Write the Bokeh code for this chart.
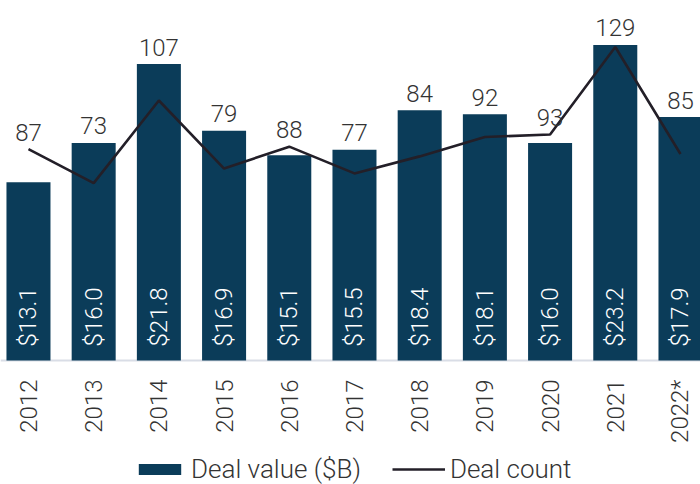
import math
from bokeh.plotting import figure
from bokeh.models import (ColumnDataSource, Range1d, Legend, LegendItem, Span)
from bokeh.core.properties import value
from bokeh.embed import file_html
from bokeh.resources import INLINE

years = ["2012", "2013", "2014", "2015", "2016", "2017", "2018", "2019", "2020", "2021", "2022*"]
deal_value = [13.1, 16.0, 21.8, 16.9, 15.1, 15.5, 18.4, 18.1, 16.0, 23.2, 17.9]
deal_count = [87, 73, 107, 79, 88, 77, 84, 92, 93, 129, 85]

FONT = "Roboto Light"
BAR = "#0b3c59"
LINE = "#231f28"
TXT = "#333333"

VAL_MIN, VAL_MAX = -9.118, 26.47
CNT_MIN, CNT_MAX = -51.03, 148.15
ratio = CNT_MAX / VAL_MAX

xs = list(range(len(years)))
value_labels = ["$%.1f" % v for v in deal_value]
count_labels = [str(c) for c in deal_count]
label_y = [max(v * ratio, c) + 7.0 for v, c in zip(deal_value, deal_count)]

src = ColumnDataSource(dict(x=xs, v=deal_value, c=deal_count, vl=value_labels,
                            cl=count_labels, ly=label_y, yr=years, zero=[0] * len(xs)))

p = figure(frame_width=700, frame_height=484, output_backend="svg", toolbar_location=None,
           x_range=Range1d(-0.429, 10.307), y_range=Range1d(VAL_MIN, VAL_MAX),
           min_border_left=0, min_border_right=0, min_border_top=0, min_border_bottom=0)
p.extra_y_ranges = {"cnt": Range1d(CNT_MIN, CNT_MAX)}
p.outline_line_color = None
p.background_fill_color = "white"
p.border_fill_color = "white"
p.grid.visible = False
p.axis.visible = False

p.add_layout(Span(location=0, dimension="width", line_color="#d9dde6", line_width=2,
                  level="underlay"))

bars = p.vbar(x="x", top="v", bottom=0, width=0.675, source=src, fill_color=BAR, line_color=None)
line = p.line(x="x", y="c", source=src, y_range_name="cnt", line_color=LINE, line_width=2.6)

# values inside bars
p.text(x="x", y="zero", text="vl", source=src, angle=math.pi / 2, y_offset=-14,
       text_color="white", text_font=value(FONT), text_font_size="24px",
       text_align="left", text_baseline="middle")

# deal count labels
p.text(x="x", y="ly", text="cl", source=src, y_range_name="cnt",
       text_color=TXT, text_font=value(FONT), text_font_size="24px",
       text_align="center", text_baseline="middle")

# year (category) labels below the baseline
p.text(x="x", y="zero", text="yr", source=src, angle=math.pi / 2, y_offset=19,
       text_color=TXT, text_font=value(FONT), text_font_size="24px",
       text_align="right", text_baseline="middle")

legend = Legend(items=[LegendItem(label="Deal value ($B)", renderers=[bars]),
                       LegendItem(label="Deal count", renderers=[line])],
                orientation="horizontal", location=(133, 0),
                glyph_width=53, glyph_height=14, label_standoff=5, spacing=31,
                padding=0, margin=0, border_line_color=None, background_fill_alpha=0,
                label_text_font=FONT, label_text_font_size="26px", label_text_color=TXT,
                label_height=24)
p.add_layout(legend, "center")

open("out.html", "w").write(file_html(p, INLINE))
